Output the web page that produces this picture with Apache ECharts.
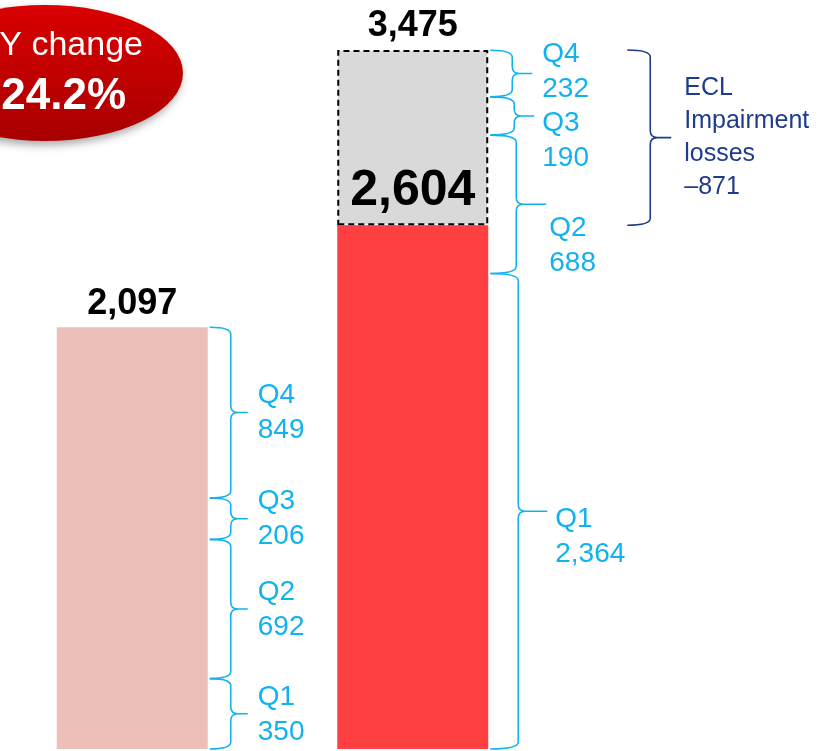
<!DOCTYPE html>
<html>
<head>
<meta charset="utf-8">
<script src="https://cdn.jsdelivr.net/npm/echarts@6/dist/echarts.min.js"></script>
<style>
  html, body { margin: 0; padding: 0; background: #fff; }
  #chart { width: 831px; height: 751px; }
</style>
</head>
<body>
<div id="chart"></div>
<script>
// ---- data ----
const categories = ['Prior year', 'Current year'];
const quarterNames = ['Q1', 'Q2', 'Q3', 'Q4'];
const priorQuarters = [350, 692, 206, 849];
const currentQuarters = [2364, 688, 190, 232];
const priorTotal = 2097;
const currentReported = 2604;
const eclLosses = 871;
const eclLines = ['ECL', 'Impairment', 'losses'];
const yoyChange = 24.2;

// ---- styling / layout ----
const FONT = '"Liberation Sans", Arial, sans-serif';
const BAR_W = 151;
const PINK = '#ECBFB8';
const RED = '#FF4043';
const GREY = '#D9D9D9';
const BLUE = '#12B2EE';
const NAVY = '#1F3C8C';
// brace geometry per bar, offsets from the bar's right edge (Q1..Q4)
const braceGeom = [
  { xv: [23, 23, 23, 23], xt: [40, 40, 40, 40], tx: [50, 50, 50, 50], shift: [-17, -17, -17, -17] },
  { xv: [30, 28, 26, 24], xt: [59, 58, 46, 44], tx: [67, 61, 54, 54], shift: [8, 24, 7, -19] }
];
const LINE_GAP = 35;

const fmt = v => v.toLocaleString('en-US');
const currentTotal = currentReported + eclLosses;

// brace items built from cumulative quarter values
const braceData = [];
const braceMeta = [];
[priorQuarters, currentQuarters].forEach((qs, cat) => {
  let acc = 0;
  qs.forEach((v, qi) => {
    braceData.push([cat, acc, acc + v]);
    braceMeta.push({ cat, qi, name: quarterNames[qi], value: v });
    acc += v;
  });
});

function bracePath(x0, xv, xt, yTop, yBot) {
  const ym = (yTop + yBot) / 2;
  const r = Math.min(7, (yBot - yTop) / 5);
  return `M${x0},${yTop} Q${xv},${yTop} ${xv},${yTop + r} L${xv},${ym - r} ` +
    `Q${xv},${ym} ${xv + r},${ym} L${xt},${ym} M${xv + r},${ym} ` +
    `Q${xv},${ym} ${xv},${ym + r} L${xv},${yBot - r} Q${xv},${yBot} ${x0},${yBot}`;
}

const chart = echarts.init(document.getElementById('chart'));

const totalLabel = { fontSize: 36, lineHeight: 38, fontWeight: 'bold', color: '#000', fontFamily: FONT };

const option = {
  animation: false,
  grid: { left: -8, width: 561, top: 50, bottom: 2, containLabel: false, outerBoundsMode: 'none' },
  xAxis: {
    type: 'category', data: categories, show: false
  },
  yAxis: { type: 'value', min: 0, max: currentTotal, show: false },
  graphic: [
    {
      type: 'circle', x: 45, y: 73, scaleX: 138 / 68, scaleY: 1, z: 10,
      shape: { cx: 0, cy: 0, r: 68 },
      style: {
        fill: {
          type: 'linear', x: 0, y: 0, x2: 0, y2: 1,
          colorStops: [{ offset: 0, color: '#DA0000' }, { offset: 1, color: '#A80000' }]
        },
        shadowBlur: 8, shadowOffsetX: -2, shadowOffsetY: 4, shadowColor: 'rgba(0,0,0,0.35)'
      }
    },
    {
      type: 'text', x: 143, y: 46, z: 11,
      style: { text: 'YoY change', fill: '#fff', fontSize: 34, fontFamily: FONT, textAlign: 'right', textVerticalAlign: 'middle' }
    },
    {
      type: 'text', x: 126, y: 97, z: 11,
      style: { text: '+' + yoyChange.toFixed(1) + '%', fill: '#fff', fontSize: 44, fontWeight: 'bold', fontFamily: FONT, textAlign: 'right', textVerticalAlign: 'middle' }
    }
  ],
  series: [
    {
      name: 'Reported',
      type: 'bar',
      stack: 'total',
      barWidth: BAR_W,
      data: [
        {
          value: priorTotal,
          itemStyle: { color: PINK },
          label: Object.assign({ show: true, position: 'top', distance: 4, formatter: p => fmt(p.value) }, totalLabel)
        },
        { value: currentReported, itemStyle: { color: RED } }
      ],
      z: 2
    },
    {
      name: 'ECL impairment losses',
      type: 'bar',
      stack: 'total',
      barWidth: BAR_W,
      data: ['-', eclLosses],
      itemStyle: { color: GREY, borderColor: '#000', borderWidth: 2, borderType: [6, 4] },
      // reported figure sits just above the red bar, inside the grey block
      label: {
        show: true, position: 'insideBottom', distance: 8, fontSize: 50, lineHeight: 52, fontWeight: 'bold', color: '#000', fontFamily: FONT,
        formatter: () => fmt(currentReported)
      },
      z: 3
    },
    {
      // zero-height cap carrying the total above the stack
      name: 'Total',
      type: 'bar',
      stack: 'total',
      barWidth: BAR_W,
      data: ['-', 0],
      itemStyle: { color: 'transparent' },
      label: Object.assign({ show: true, position: 'top', distance: 5, formatter: () => fmt(currentTotal) }, totalLabel),
      z: 4
    },
    {
      name: 'Quarters',
      type: 'custom',
      data: braceData,
      z: 5,
      renderItem(params, api) {
        const meta = braceMeta[params.dataIndex];
        const g = braceGeom[meta.cat];
        const cat = api.value(0);
        const yBot = api.coord([cat, api.value(1)])[1];
        const yTop = api.coord([cat, api.value(2)])[1];
        const right = api.coord([cat, 0])[0] + BAR_W / 2;
        const q = meta.qi;
        const x0 = right + 2, xv = right + g.xv[q], xt = right + g.xt[q], tx = right + g.tx[q];
        const ym = (yTop + yBot) / 2;
        const y1 = ym + g.shift[q];
        return {
          type: 'group',
          children: [
            { type: 'path', shape: { pathData: bracePath(x0, xv, xt, yTop, yBot) }, style: { fill: 'none', stroke: BLUE, lineWidth: 1.6 } },
            { type: 'text', style: { x: tx, y: y1, text: meta.name, fill: BLUE, fontSize: 28, fontFamily: FONT, textAlign: 'left', textVerticalAlign: 'middle' } },
            { type: 'text', style: { x: tx, y: y1 + LINE_GAP, text: fmt(meta.value), fill: BLUE, fontSize: 28, fontFamily: FONT, textAlign: 'left', textVerticalAlign: 'middle' } }
          ]
        };
      }
    },
    {
      name: 'ECL brace',
      type: 'custom',
      data: [[1, currentReported, currentTotal]],
      z: 5,
      renderItem(params, api) {
        const cat = api.value(0);
        const yBot = api.coord([cat, api.value(1)])[1];
        const yTop = api.coord([cat, api.value(2)])[1];
        const right = api.coord([cat, 0])[0] + BAR_W / 2;
        const x0 = right + 139, xv = right + 162, xt = right + 183, tx = right + 196;
        const ym = (yTop + yBot) / 2;
        const lines = eclLines.concat(['\u2013' + fmt(eclLosses)]);
        const children = [
          { type: 'path', shape: { pathData: bracePath(x0, xv, xt, yTop, yBot) }, style: { fill: 'none', stroke: NAVY, lineWidth: 1.6 } }
        ];
        lines.forEach((t, i) => {
          children.push({ type: 'text', style: { x: tx, y: ym - 49 + i * 33, text: t, fill: NAVY, fontSize: 25, fontFamily: FONT, textAlign: 'left', textVerticalAlign: 'middle' } });
        });
        return { type: 'group', children };
      }
    }
  ]
};

chart.setOption(option);
</script>
</body>
</html>
